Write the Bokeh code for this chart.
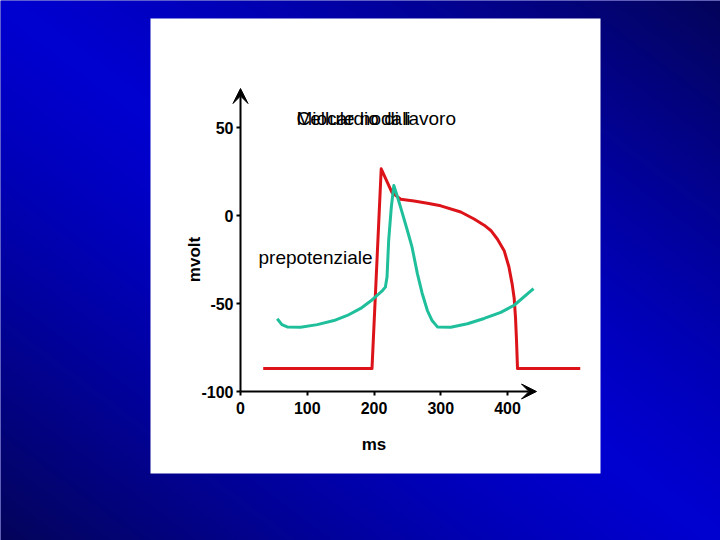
import numpy as np
from bokeh.plotting import figure
from bokeh.models import Range1d, LinearAxis, FixedTicker, Arrow, VeeHead
from bokeh.core.properties import value
from bokeh.embed import file_html
from bokeh.resources import INLINE

# ---------------- data ----------------
x_ticks = [0, 100, 200, 300, 400]
x_tick_labels = ["0", "100", "200", "300", "400"]
y_ticks = [-100, -50, 0, 50]
y_tick_labels = ["-100", "-50", "0", "50"]
x_label = "ms"
y_label = "mvolt"

# Miocardio di lavoro (red)
working_ms = [34, 197, 210.8, 227, 240, 260, 280, 300, 330, 350, 365, 375, 385,
              395, 402, 407, 410, 412, 413.5, 415, 509]
working_mv = [-87, -87, 26.5, 13, 9.2, 8.2, 7.0, 5.5, 2.0, -2.0, -5.5, -8.5, -13.5,
              -20, -29, -39, -47, -58, -71, -87, -87]

# Cellule nodali (green)
nodal_ms = [55, 62, 70, 90, 115, 140, 160, 180, 195, 205, 213, 217, 219.5, 222, 226,
            229.7, 234, 240, 250, 257, 265, 272, 280, 287, 295, 315, 340, 365, 390,
            410, 439]
nodal_mv = [-58.7, -62, -63.3, -63.5, -62, -59.7, -56.8, -52.8, -48.6, -45.3, -42.5,
            -40.7, -35, -14, 5, 17, 12, 4.5, -8.5, -18, -33, -44, -54, -59.7, -63.3,
            -63.5, -61.5, -58.5, -55, -51, -41.6]

title_labels = ["Cellule nodali", "Miocardio di lavoro"]
note_label = ["prepotenziale"]

# ---------------- layout helpers ----------------
W, H = 720, 540
KX, KY = 0.6675, 1.76          # px per ms, px per mV
X0PX, YM100PX = 240, 391       # pixel of x=0, y=-100


def px2x(px):
    return (px - X0PX) / KX


def py2y(py):
    return -100 + (YM100PX - py) / KY


FONT = "Liberation Sans"

p = figure(width=W, height=H,
           x_range=Range1d(px2x(0), px2x(W)),
           y_range=Range1d(py2y(H), py2y(0)),
           x_axis_type=None, y_axis_type=None,
           output_backend="svg", toolbar_location=None, min_border=0)
p.outline_line_color = None
p.background_fill_color = "#0000aa"
p.border_fill_color = "#0000aa"

# blue diagonal gradient background (bright along TL-BR diagonal)
ys, xs = np.mgrid[0:H, 0:W]
t = np.abs(0.6 * xs - 0.8 * ys) / 432.0
t = np.clip(t, 0, 1) ** 1.3
img = np.zeros((H, W, 4), dtype=np.uint8)
img[..., 0] = (4 * t).astype(np.uint8)
img[..., 1] = (4 * t).astype(np.uint8)
img[..., 2] = (208 - 118 * t).astype(np.uint8)
img[..., 3] = 255
img32 = img.view(np.uint32).reshape(H, W)[::-1]
p.image_rgba(image=[img32], x=px2x(0), y=py2y(H), dw=px2x(W) - px2x(0),
             dh=py2y(0) - py2y(H))

# white panel
p.quad(left=[px2x(150)], right=[px2x(600)], top=[py2y(18)], bottom=[py2y(473)],
       fill_color="white", line_color=None)

# curves
p.line(working_ms, working_mv, line_color="#dc1419", line_width=3,
       line_join="round")
p.line(nodal_ms, nodal_mv, line_color="#1fbf9c", line_width=3,
       line_join="round")

# axes
yaxis = LinearAxis(fixed_location=0, bounds=(-100, 50),
                   ticker=FixedTicker(ticks=y_ticks), axis_label=y_label,
                   major_label_overrides=dict(zip(y_ticks, y_tick_labels)))
xaxis = LinearAxis(fixed_location=-100, bounds=(0, 400),
                   ticker=FixedTicker(ticks=x_ticks), axis_label=x_label,
                   major_label_overrides=dict(zip(x_ticks, x_tick_labels)))
for ax in (xaxis, yaxis):
    ax.axis_line_color = None
    ax.major_tick_line_color = "black"
    ax.major_tick_line_width = 2
    ax.major_tick_in = 0
    ax.major_tick_out = 4
    ax.minor_tick_line_color = None
    ax.major_label_text_font = FONT
    ax.major_label_text_font_size = "16px"
    ax.major_label_text_font_style = "bold"
    ax.major_label_text_color = "black"
    ax.axis_label_text_font = FONT
    ax.axis_label_text_font_size = "17px"
    ax.axis_label_text_font_style = "bold"
    ax.axis_label_text_color = "black"
yaxis.major_label_standoff = 3
yaxis.axis_label_standoff = -6
xaxis.major_label_standoff = 6
xaxis.axis_label_standoff = 18
p.add_layout(yaxis, "left")
p.add_layout(xaxis, "below")

p.add_layout(Arrow(end=VeeHead(size=15, fill_color="black", line_color="black"),
                   x_start=0, y_start=-100, x_end=px2x(536), y_end=-100,
                   line_width=2, line_color="black"))
p.add_layout(Arrow(end=VeeHead(size=15, fill_color="black", line_color="black"),
                   x_start=0, y_start=-100, x_end=0, y_end=py2y(88),
                   line_width=2, line_color="black"))

# texts
p.text(x=[px2x(296)] * 2, y=[py2y(118)] * 2, text=title_labels,
       text_font=value(FONT), text_font_size="19px", text_baseline="alphabetic",
       text_align="left", text_color="black")
p.text(x=[px2x(258)], y=[py2y(257)], text=note_label,
       text_font=value(FONT), text_font_size="19px", text_baseline="alphabetic",
       text_align="left", text_color="black")

open("out.html", "w").write(file_html(p, INLINE))
